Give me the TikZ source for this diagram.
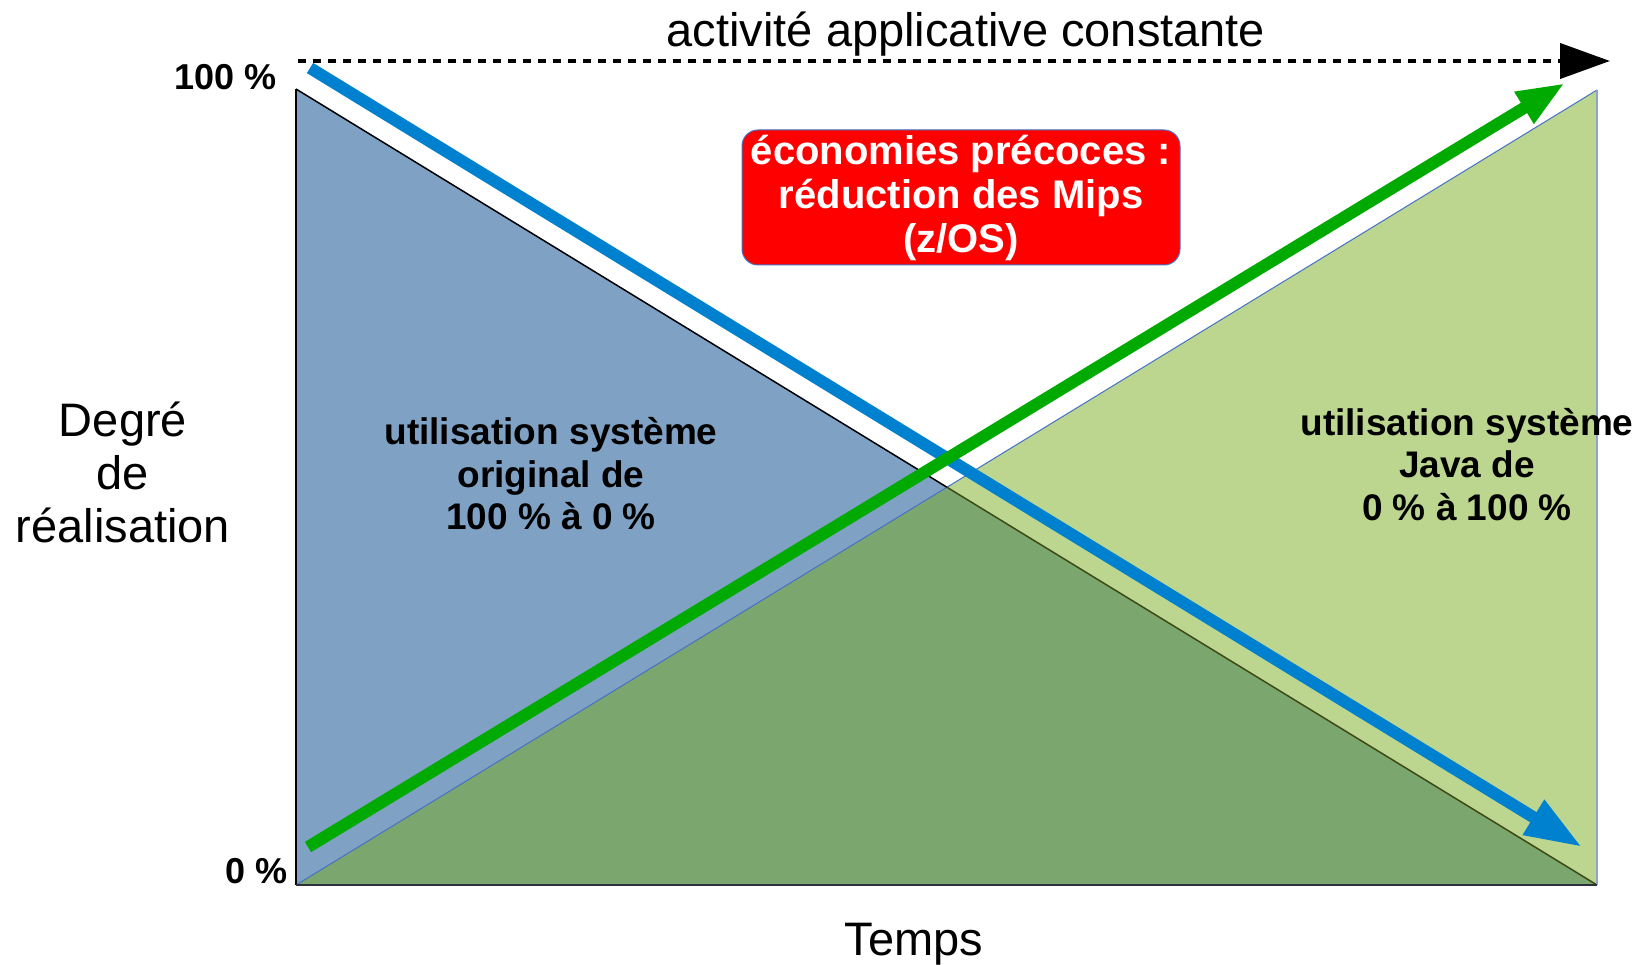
\documentclass[tikz,border=0pt]{standalone}
\usepackage{fontspec}
\setmainfont{Liberation Sans}
\usetikzlibrary{arrows.meta}
\definecolor{blueFill}{HTML}{7FA1C3}
\definecolor{lightGreen}{HTML}{BCD68F}
\definecolor{darkGreen}{HTML}{7BA66E}
\definecolor{blueArrow}{HTML}{0081D0}
\definecolor{greenArrow}{HTML}{00AA00}
\definecolor{olive}{HTML}{3D4A15}
\definecolor{edgeBlue}{HTML}{4472C4}
\definecolor{edgeGray}{HTML}{8EA6C6}
\begin{document}
\begin{tikzpicture}[x=1pt,y=-1pt,
  biglabel/.style={inner sep=0pt,align=center,font=\fontsize{47}{53}\selectfont},
  boldlabel/.style={inner sep=0pt,align=center,font=\fontsize{37}{42.5}\selectfont\bfseries},
  axislabel/.style={inner sep=0pt,anchor=base east,font=\fontsize{36}{40}\selectfont\bfseries},
  bigarrow/.style={line width=12pt}]
\useasboundingbox (0,0) rectangle (1640,965);
% corners
\coordinate (TL) at (296,89);
\coordinate (BL) at (296,885);
\coordinate (BR) at (1597,885);
\coordinate (TR) at (1597,90);
\coordinate (X) at (946.9,487.2);
% regions
\fill[blueFill] (TL) -- (BL) -- (BR) -- cycle;
\fill[lightGreen] (BL) -- (TR) -- (BR) -- cycle;
\fill[darkGreen] (BL) -- (X) -- (BR) -- cycle;
% edges
\draw[edgeBlue,line width=1pt] (BL) -- (TR);
\draw[black,line width=1.5pt] (TL) -- (X);
\draw[olive,line width=1.5pt] (X) -- (BR);
\draw[black,line width=1.5pt] (TL) -- (BL);
\draw[edgeGray,line width=2pt] (TR) -- (BR);
\draw[black!70!edgeGray,line width=2pt] (BL) -- (BR);
% dashed arrow
\coordinate (ds) at (298,61);
\coordinate (de) at (1610,61);
\draw[line width=4pt,dash pattern=on 8pt off 7pt,-{Triangle[length=50pt,width=35pt]}] (ds) -- (de);
% blue arrow
\coordinate (bs) at (310,68);
\coordinate (be) at (1582,847);
\draw[bigarrow,blueArrow,-{Triangle[length=57pt,width=38pt]}] (bs) -- (be);
% green arrow
\coordinate (gs) at (308,847);
\coordinate (ge) at (1565,83);
\draw[bigarrow,greenArrow,-{Triangle[length=48pt,width=34pt]}] (gs) -- (ge);
% red box
\node[draw=edgeBlue,line width=1pt,fill=red,rounded corners=16pt,minimum width=438pt,minimum height=135pt,inner sep=0pt,align=center,text=white,font=\fontsize{40}{44}\selectfont\bfseries] (eco) at (961,197.5) {économies précoces :\\réduction des Mips\\(z/OS)};
% labels
\node[biglabel,anchor=base] (act) at (966,47) {activité applicative constante};
\node[biglabel] (deg) at (123,472) {Degré\\de\\réalisation};
\node[biglabel,anchor=base] (temps) at (914,955) {Temps};
\node[axislabel] (p100) at (277,90) {100 \%};
\node[axislabel] (p0) at (288,883) {0 \%};
\node[boldlabel] (orig) at (551,474) {utilisation système\\original de\\100 \% à 0 \%};
\node[boldlabel] (java) at (1467,464.5) {utilisation système\\Java de\\0 \% à 100 \%};
\end{tikzpicture}
\end{document}
